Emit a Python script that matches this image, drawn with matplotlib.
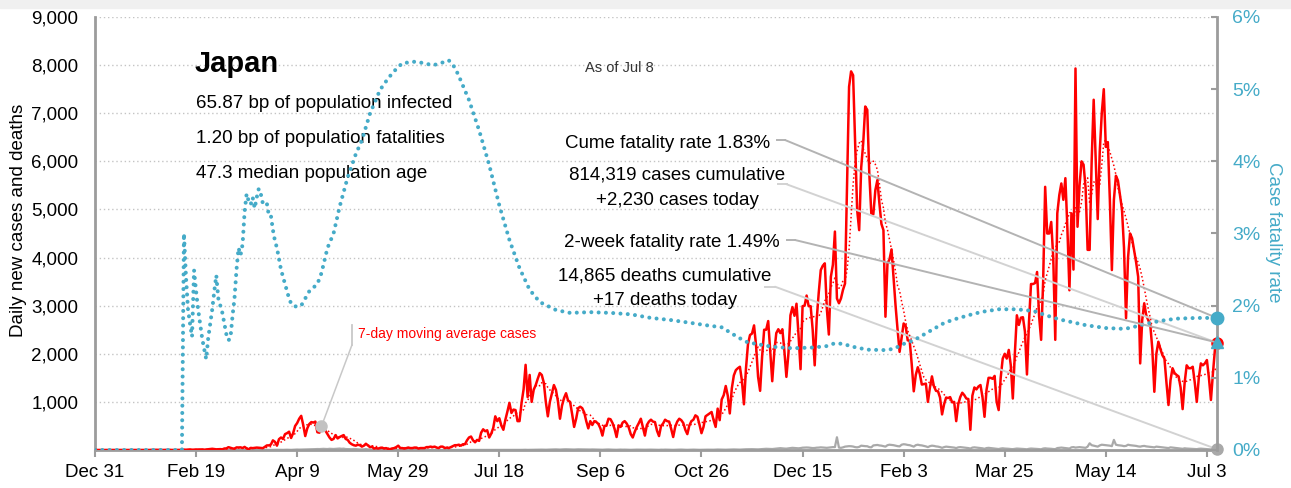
import matplotlib
matplotlib.use("Agg")
import matplotlib.pyplot as plt
from matplotlib.patches import Rectangle
from matplotlib.ticker import FuncFormatter
import pandas as pd

plt.rcParams["font.family"] = ["Liberation Sans", "DejaVu Sans"]

START = "2019-12-31"
MONTH_STARTS = [
    "2019-12-31", "2020-01-01", "2020-02-01", "2020-03-01", "2020-04-01",
    "2020-05-01", "2020-06-01", "2020-07-01", "2020-08-01", "2020-09-01",
    "2020-10-01", "2020-11-01", "2020-12-01", "2021-01-01", "2021-02-01",
    "2021-03-01", "2021-04-01", "2021-05-01", "2021-06-01", "2021-07-01",
]

# daily new cases, one list per month
cases_dec19 = [0]
cases_jan20 = [0, 0, 0, 0, 0, 0, 0, 0, 0, 0, 0, 0, 0, 0, 0,
               1, 0, 0, 0, 0, 0, 0, 0, 1, 1, 0, 0, 3, 1, 4, 4]
cases_feb20 = [2, 0, 0, 2, 1, 3, 0, 0, 1, 0, 0, 2, 8, 5, 8, 12, 6, 7, 11, 10,
               12, 12, 6, 11, 16, 22, 25, 20, 14]
cases_mar20 = [15, 18, 14, 31, 33, 59, 47, 33, 26, 54, 52, 55, 41, 64, 34, 15,
               44, 39, 45, 50, 47, 43, 38, 65, 95, 96, 112, 200, 170, 90, 225]
cases_apr20 = [260, 230, 330, 350, 380, 250, 350, 500, 560, 650, 710, 520, 290,
               450, 540, 580, 570, 590, 370, 360, 420, 430, 400, 330, 260, 210,
               230, 310, 240, 270]
cases_may20 = [290, 310, 230, 210, 150, 120, 100, 90, 110, 100, 70, 90, 130, 95,
               60, 70, 30, 40, 30, 40, 50, 30, 40, 20, 20, 30, 40, 60, 90, 40, 40]
cases_jun20 = [30, 40, 50, 40, 40, 50, 50, 30, 40, 40, 40, 60, 60, 70, 60, 70,
               50, 40, 70, 70, 40, 50, 40, 60, 80, 100, 100, 110, 90, 120]
cases_jul20 = [120, 200, 260, 280, 200, 160, 210, 190, 360, 430, 390, 410, 260,
               340, 460, 700, 600, 660, 510, 420, 630, 800, 980, 770, 840, 830,
               600, 600, 980, 1260, 1770]
cases_aug20 = [1100, 1560, 1000, 1250, 1350, 1480, 1600, 1560, 1400, 1000, 700,
               1000, 1180, 1350, 1250, 1010, 650, 920, 1080, 1180, 1030, 1000,
               750, 480, 650, 870, 900, 870, 780, 600, 450]
cases_sep20 = [600, 520, 600, 580, 540, 450, 300, 500, 510, 650, 640, 560, 440,
               270, 510, 480, 570, 600, 550, 470, 330, 260, 380, 480, 560, 650,
               470, 300, 520, 590]
cases_oct20 = [630, 590, 580, 400, 290, 500, 550, 630, 600, 590, 440, 270, 480,
               590, 650, 620, 560, 420, 330, 510, 600, 630, 720, 690, 530, 350,
               480, 700, 730, 760, 790]
cases_nov20 = [620, 480, 860, 620, 1050, 1140, 1330, 1130, 760, 1280, 1550,
               1660, 1700, 1730, 1440, 950, 1690, 2200, 2390, 2420, 2590, 2170,
               1520, 1230, 1950, 2500, 2500, 2680, 2070, 1430]
cases_dec20 = [2030, 2430, 2510, 2430, 2510, 2060, 1520, 2000, 2800, 2970, 2790,
               3040, 2390, 1680, 2990, 3000, 3210, 2990, 2990, 2500, 1760, 2720,
               3270, 3740, 3830, 3880, 2940, 2400, 3600, 3850, 4540]
cases_jan21 = [3150, 3050, 3150, 3330, 3460, 5500, 7550, 7870, 7790, 6380, 4990,
               4570, 5870, 6380, 7140, 7070, 5750, 4920, 4900, 5400, 5610, 5130,
               4700, 4570, 2770, 3880, 3960, 4170, 3600, 3000, 2500]
cases_feb21 = [2040, 2330, 2630, 2580, 2280, 2270, 1780, 1220, 1560, 1720, 1580,
               1360, 1370, 1380, 1000, 1300, 1530, 1320, 1230, 1220, 1090, 740,
               950, 1090, 1080, 1100, 990, 1000]
cases_mar21 = [600, 950, 1100, 1190, 1140, 1070, 1060, 420, 1130, 1300, 1260,
               1320, 1350, 1100, 690, 1250, 1500, 1500, 1480, 1540, 1000, 830,
               1500, 1900, 2000, 1900, 2080, 1760, 1070, 2000, 2800]
cases_apr21 = [2600, 2750, 2760, 2460, 1570, 2660, 3450, 3450, 3470, 3700, 2780,
               2290, 3500, 5470, 4500, 4500, 4740, 4000, 2290, 4920, 5300, 5540,
               5200, 5650, 4600, 3320, 4920, 3750, 7930, 4640]
cases_may21 = [5500, 6000, 5930, 5450, 4160, 4160, 6000, 7280, 6030, 4800, 6200,
               7000, 7500, 6300, 6400, 5200, 3740, 5200, 5700, 5600, 5300, 5000,
               4200, 2740, 4000, 4500, 4400, 4150, 3900, 3600, 1800]
cases_jun21 = [2700, 3050, 2800, 2700, 2600, 2100, 1210, 2000, 2250, 2100, 1970,
               1900, 1400, 935, 1450, 1700, 1600, 1560, 1530, 1300, 850, 1400,
               1760, 1700, 1700, 1730, 1400, 1000, 1500, 1800]
cases_jul21 = [1760, 1800, 1870, 1500, 1040, 1600, 2100, 2230]

# daily deaths, one list per month
deaths_dec19 = [0]
deaths_jan20 = [0, 0, 0, 0, 0, 0, 0, 0, 0, 0, 0, 0, 0, 0, 0, 0,
                0, 0, 0, 0, 0, 0, 0, 0, 0, 0, 0, 0, 0, 0, 0]
deaths_feb20 = [0, 0, 0, 0, 0, 0, 0, 0, 0, 0, 0, 0, 1, 0, 0, 0, 0, 0, 1, 0,
                0, 0, 0, 1, 0, 1, 0, 2, 0]
deaths_mar20 = [1, 1, 2, 0, 0, 1, 1, 2, 0, 1, 1, 2, 1, 1, 1, 2, 1, 2, 1, 1,
                1, 0, 3, 2, 2, 2, 2, 3, 3, 4, 5]
deaths_apr20 = [4, 3, 5, 6, 4, 3, 5, 7, 10, 8, 9, 11, 12, 13, 15, 16, 17, 18,
                20, 19, 22, 24, 22, 20, 25, 23, 21, 24, 26, 30]
deaths_may20 = [25, 28, 20, 18, 15, 16, 20, 19, 15, 12, 13, 14, 20, 13, 10, 9,
                8, 10, 8, 7, 9, 8, 6, 5, 5, 7, 6, 4, 4, 3, 2]
deaths_jun20 = [2, 3, 2, 1, 3, 2, 1, 1, 2, 3, 1, 1, 0, 1, 2, 1, 2, 1, 0, 1,
                0, 1, 2, 1, 1, 1, 0, 1, 1, 2]
deaths_jul20 = [1, 2, 0, 1, 1, 0, 1, 1, 0, 1, 1, 1, 2, 0, 1, 1, 0, 1, 1, 0,
                2, 1, 1, 2, 2, 1, 2, 3, 3, 4, 5]
deaths_aug20 = [3, 4, 5, 6, 5, 6, 7, 8, 7, 6, 8, 9, 10, 12, 13, 10, 9, 12, 14,
                15, 13, 12, 11, 10, 12, 14, 13, 11, 10, 9, 8]
deaths_sep20 = [10, 12, 11, 9, 8, 7, 6, 9, 10, 11, 8, 7, 6, 5, 8, 9, 7, 8, 6,
                5, 4, 6, 7, 8, 7, 6, 5, 6, 7, 8]
deaths_oct20 = [8, 7, 6, 5, 4, 7, 6, 8, 7, 6, 5, 4, 6, 7, 8, 9, 6, 5, 4, 6, 7,
                8, 6, 5, 4, 5, 7, 8, 7, 6, 5]
deaths_nov20 = [6, 8, 10, 9, 8, 7, 6, 8, 10, 11, 12, 10, 9, 8, 11, 14, 15, 16,
                18, 17, 15, 14, 13, 16, 20, 22, 25, 23, 21, 20]
deaths_dec20 = [25, 30, 35, 38, 33, 30, 28, 35, 40, 45, 42, 38, 35, 40, 48, 50,
                52, 50, 45, 40, 42, 48, 50, 55, 52, 48, 45, 50, 55, 60, 60]
deaths_jan21 = [265, 50, 45, 55, 70, 75, 80, 78, 72, 60, 55, 65, 90, 85, 80, 78,
                60, 55, 95, 100, 105, 95, 90, 80, 70, 100, 110, 105, 100, 90, 80]
deaths_feb21 = [75, 110, 120, 115, 105, 100, 85, 70, 100, 110, 100, 95, 85, 75,
                60, 80, 90, 85, 75, 70, 60, 45, 60, 70, 65, 60, 55, 50]
deaths_mar21 = [40, 55, 60, 55, 50, 45, 40, 30, 50, 55, 50, 45, 40, 35, 25, 40,
                45, 40, 35, 30, 25, 20, 30, 35, 30, 28, 25, 20, 18, 25, 30]
deaths_apr21 = [28, 25, 22, 18, 15, 25, 30, 28, 25, 22, 18, 15, 30, 35, 30, 28,
                25, 20, 18, 40, 45, 50, 45, 40, 35, 30, 55, 60, 50, 55]
deaths_may21 = [60, 55, 50, 45, 70, 140, 100, 90, 80, 70, 95, 110, 105, 100, 95,
                90, 80, 210, 110, 100, 95, 90, 80, 85, 110, 100, 95, 90, 85, 75, 70]
deaths_jun21 = [80, 85, 75, 70, 65, 60, 55, 70, 65, 60, 55, 50, 45, 40, 55, 50,
                45, 40, 35, 30, 25, 35, 30, 28, 25, 22, 20, 18, 25, 28]
deaths_jul21 = [25, 22, 20, 15, 12, 20, 22, 17]

# cumulative case fatality rate (%), days counted from Dec 31 2019
cfr_day = [0, 43] + list(range(44, 105)) + [
    106, 108, 110, 112, 115, 118, 121, 125, 129, 132, 136, 141, 145, 148, 152,
    158, 163, 167, 171, 175, 178, 180, 185, 190, 195, 200, 205, 210, 215, 220,
    228, 235, 245, 255, 265, 275, 285, 295, 302, 310, 317, 322, 327, 335, 345,
    355, 362, 366, 370, 375, 382, 390, 395, 400, 405, 410, 415, 420, 425, 430,
    435, 440, 447, 455, 460, 465, 470, 477, 485, 490, 495, 500, 508, 512, 517,
    522, 527, 535, 545, 555]
cfr_pct = [
    0, 0,
    3.0, 2.4, 1.95, 1.75, 1.57, 2.49, 2.2, 1.95, 1.75, 1.55, 1.4, 1.26, 1.55,
    1.75, 1.95, 2.2, 2.42, 2.1, 2.0, 1.9, 1.75, 1.6, 1.52, 1.55, 1.85, 2.1, 2.5,
    2.8, 2.7, 2.85, 3.3, 3.55, 3.45, 3.4, 3.5, 3.35, 3.5, 3.62, 3.55, 3.42, 3.4,
    3.42, 3.25, 3.25, 3.05, 2.9, 2.8, 2.65, 2.5, 2.4, 2.3, 2.2, 2.1, 2.03, 2.0,
    1.99, 1.99, 1.99, 2.0, 2.05, 2.1,
    2.2, 2.25, 2.3, 2.45, 2.8, 3.0, 3.37, 3.78, 4.1, 4.29, 4.66, 4.99, 5.15,
    5.25, 5.36, 5.38, 5.36, 5.33, 5.36, 5.4, 5.3, 5.18, 4.85, 4.43, 3.95, 3.39,
    2.91, 2.52, 2.22, 2.05, 1.94, 1.9, 1.91, 1.9, 1.88, 1.83, 1.8, 1.76, 1.73,
    1.7, 1.58, 1.5, 1.47, 1.43, 1.41, 1.42, 1.44, 1.48, 1.47, 1.43, 1.39, 1.385,
    1.4, 1.47, 1.52, 1.6, 1.68, 1.76, 1.81, 1.85, 1.89, 1.92, 1.95, 1.95, 1.94,
    1.92, 1.87, 1.81, 1.76, 1.73, 1.71, 1.69, 1.68, 1.69, 1.73, 1.76, 1.79,
    1.82, 1.83, 1.83]

two_week_cfr = 1.49
ma_note_date = "2020-04-21"
x_tick_step_days = 50

RED = "#ff0000"
TEAL = "#45abc8"
GRAY = "#a9a9a9"
SPINE = "#9c9c9c"
GRID = "#c4c4c4"
TXT = 13.5


def monthly(parts):
    out = []
    for first, vals in zip(MONTH_STARTS, parts):
        out.append(pd.Series(vals, index=pd.date_range(first, periods=len(vals), freq="D")))
    return pd.concat(out)


cases = monthly([cases_dec19, cases_jan20, cases_feb20, cases_mar20, cases_apr20,
                 cases_may20, cases_jun20, cases_jul20, cases_aug20, cases_sep20,
                 cases_oct20, cases_nov20, cases_dec20, cases_jan21, cases_feb21,
                 cases_mar21, cases_apr21, cases_may21, cases_jun21, cases_jul21])
deaths = monthly([deaths_dec19, deaths_jan20, deaths_feb20, deaths_mar20,
                  deaths_apr20, deaths_may20, deaths_jun20, deaths_jul20,
                  deaths_aug20, deaths_sep20, deaths_oct20, deaths_nov20,
                  deaths_dec20, deaths_jan21, deaths_feb21, deaths_mar21,
                  deaths_apr21, deaths_may21, deaths_jun21, deaths_jul21])
ma = cases.rolling(7, min_periods=1).mean()
cfr = pd.Series(cfr_pct, index=pd.Timestamp(START) + pd.to_timedelta(cfr_day, unit="D"))
last = cases.index[-1]

fig = plt.figure(figsize=(12.91, 4.88), dpi=100)
fig.patches.append(Rectangle((0, 1 - 8 / 488), 1, 8 / 488, transform=fig.transFigure,
                             color="#f0f0f0", zorder=0))
ax = fig.add_axes([95 / 1291, 38 / 488, 1122 / 1291, 433 / 488])
ax2 = ax.twinx()

ax.plot(deaths.index, deaths.values, color=GRAY, lw=1.6, zorder=2)
ax.plot(cases.index, cases.values, color=RED, lw=1.8, zorder=3)
ax.plot(ma.index, ma.values, color=RED, lw=1.1, ls=(0, (1, 1.6)), zorder=4)
ax2.plot(cfr.index, cfr.values, color=TEAL, lw=2.9, ls=(0, (0.01, 1.8)),
         dash_capstyle="round", zorder=3)

ax.set_xlim(pd.Timestamp(START), last)
ax.set_ylim(0, 9000)
ax2.set_ylim(0, 6)

tick_dates = pd.date_range(START, last, freq=f"{x_tick_step_days}D")
ax.set_xticks(tick_dates)
ax.set_xticklabels([d.strftime("%b %-d") for d in tick_dates])
ax.set_yticks(range(1000, 9001, 1000))
ax.yaxis.set_major_formatter(FuncFormatter(lambda v, p: f"{v:,.0f}"))
ax2.set_yticks(range(0, 7))
ax2.yaxis.set_major_formatter(FuncFormatter(lambda v, p: f"{v:.0f}%"))

ax.yaxis.grid(True, color=GRID, ls=(0, (1, 2)), lw=1)
ax.set_axisbelow(True)

for s in ["top", "right"]:
    ax.spines[s].set_visible(False)
for s in ["top", "left", "bottom"]:
    ax2.spines[s].set_visible(False)
for sp in [ax.spines["left"], ax.spines["bottom"], ax2.spines["right"]]:
    sp.set_color(SPINE)
    sp.set_linewidth(2)

ax.tick_params(axis="x", length=5, width=1.5, color=SPINE, labelsize=13.5, pad=5)
ax.tick_params(axis="y", length=0, pad=12, labelsize=13.5)
ax2.tick_params(axis="y", direction="in", length=4, width=1.5, color=SPINE,
                labelcolor=TEAL, labelsize=14, pad=11)

ax.set_ylabel("Daily new cases and deaths", fontsize=13.5)
ax.yaxis.label.set_va("center")
ax.yaxis.set_label_coords(-0.0686, 0.531)
ax2.set_ylabel("Case fatality rate", fontsize=13.5, color=TEAL, rotation=270)
ax2.yaxis.label.set_va("center")
ax2.yaxis.set_label_coords(1.05, 0.503)

# country block
tx = ax.transAxes
ax.text(0.0891, 0.873, "Japan", transform=tx, fontsize=21, fontweight="bold")
ax.text(0.090, 0.789, "65.87 bp of population infected", transform=tx, fontsize=TXT)
ax.text(0.090, 0.708, "1.20 bp of population fatalities", transform=tx, fontsize=TXT)
ax.text(0.090, 0.6275, "47.3 median population age", transform=tx, fontsize=TXT)
ax.text(0.4367, 0.8737, "As of Jul 8", transform=tx, fontsize=10.5, color="#333333")

# end-of-series markers
ax.plot(last, cases.iloc[-1], "o", color=RED, ms=8, zorder=6, clip_on=False)
ax.plot(last, deaths.iloc[-1], "o", color=GRAY, ms=8, zorder=6, clip_on=False)
ax2.plot(last, cfr.iloc[-1], "o", color=TEAL, ms=9, zorder=6, clip_on=False)
ax2.plot(last, two_week_cfr, "^", color=TEAL, ms=9, zorder=7, clip_on=False)


def leader(axis, x0, x1, y, target, color):
    ax.plot([x0, x1], [y, y], transform=tx, color=color, lw=1.4, clip_on=False)
    axis.annotate("", xy=target, xycoords="data", xytext=(x1, y),
                  textcoords="axes fraction",
                  arrowprops=dict(arrowstyle="-", color=color, lw=1.4,
                                  shrinkA=0, shrinkB=0))


ax.text(0.6016, 0.6967, f"Cume fatality rate {cfr.iloc[-1]:.2f}%", transform=tx,
        fontsize=TXT, ha="right")
leader(ax2, 0.6078, 0.6150, 0.7159, (last, cfr.iloc[-1]), "#b3b3b3")

ax.text(0.5187, 0.6236, "814,319 cases cumulative", transform=tx, fontsize=TXT, ha="center")
ax.text(0.5187, 0.5658, f"+{cases.iloc[-1]:,} cases today", transform=tx,
        fontsize=TXT, ha="center")
leader(ax, 0.6090, 0.6165, 0.6136, (last, cases.iloc[-1]), "#d2d2d2")

ax.text(0.6099, 0.4695, f"2-week fatality rate {two_week_cfr:.2f}%", transform=tx,
        fontsize=TXT, ha="right")
leader(ax2, 0.6165, 0.6239, 0.485, (last, two_week_cfr), "#b3b3b3")

ax.text(0.508, 0.3926, "14,865 deaths cumulative", transform=tx, fontsize=TXT, ha="center")
ax.text(0.508, 0.3349, f"+{deaths.iloc[-1]} deaths today", transform=tx,
        fontsize=TXT, ha="center")
leader(ax, 0.5971, 0.6061, 0.3771, (last, deaths.iloc[-1]), "#d2d2d2")

# moving-average note
note_date = pd.Timestamp(ma_note_date)
ax.plot(note_date, ma[note_date], "o", color="#c2c2c2", ms=8, zorder=5)
ax.plot([0.229, 0.229], [0.2425, 0.2887], transform=tx, color="#c8c8c8", lw=1.3)
ax.annotate("", xy=(note_date, ma[note_date]), xycoords="data", xytext=(0.229, 0.2425),
            textcoords="axes fraction",
            arrowprops=dict(arrowstyle="-", color="#c8c8c8", lw=1.1, shrinkA=0, shrinkB=0))
ax.text(0.2347, 0.2679, "7-day moving average cases", transform=tx, fontsize=10,
        color=RED, va="center")

fig.savefig("out.png", dpi=100)
